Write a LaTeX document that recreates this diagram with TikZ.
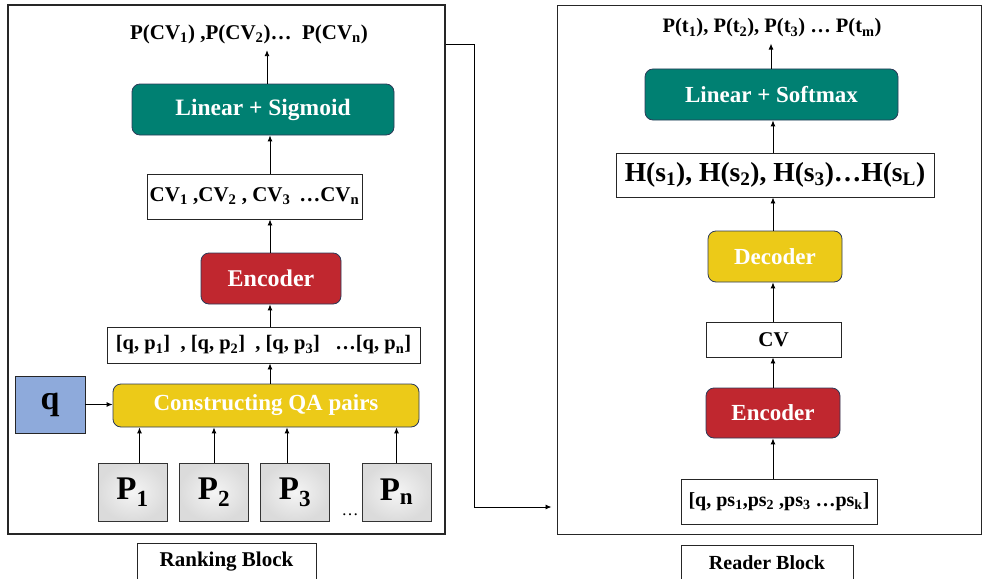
\documentclass[tikz,border=0pt]{standalone}
\usepackage{fontspec}
\setmainfont{Liberation Serif}
\usetikzlibrary{arrows.meta}
\definecolor{tealbox}{RGB}{0,128,114}
\definecolor{redbox}{RGB}{192,39,47}
\definecolor{yellowbox}{RGB}{236,202,24}
\definecolor{bluebox}{RGB}{142,170,219}
\definecolor{edgeblue}{RGB}{44,58,88}
\newcommand\fsz[1]{\fontsize{#1}{#1}\selectfont}

\begin{document}
\begin{tikzpicture}[x=1pt,y=-1pt,
  font=\bfseries,
  frame/.style={draw=black!85, line width=1.1pt, inner sep=0pt},
  block/.style={draw=edgeblue, line width=0.8pt, rounded corners=8pt,
                text=white, inner sep=0pt},
  plain/.style={draw=black!85, line width=0.9pt, fill=white, inner sep=0pt},
  pbox/.style={draw=black!80, line width=0.9pt, inner sep=0pt,
               minimum width=69pt, minimum height=58pt,
               inner color=gray!8, outer color=gray!28, font=\bfseries\fsz{33}},
  lbl/.style={inner sep=1pt},
  arr/.style={-{Latex[length=6pt,width=5pt]}, line width=0.9pt}]

\useasboundingbox (0,0) rectangle (982,578);

% ---------------- Ranking block ----------------
\node[frame, minimum width=437pt, minimum height=529pt] (rank) at (226.5,269.5) {};

\node[lbl, anchor=base, font=\bfseries\fsz{21}] (pcv) at (249,39.5)
  {P(CV\textsubscript{1}) ,P(CV\textsubscript{2})…\ \ P(CV\textsubscript{n})};

\node[block, fill=tealbox, minimum width=262pt, minimum height=51pt,
      font=\bfseries\fsz{23.5}] (linsig) at (263,109.5) {Linear + Sigmoid};

\node[plain, minimum width=215pt, minimum height=45pt, font=\bfseries\fsz{21}]
  (cvs) at (254.5,196.5)
  {CV\textsubscript{1} ,CV\textsubscript{2} , CV\textsubscript{3} \,…CV\textsubscript{n}};

\node[block, fill=redbox, minimum width=140pt, minimum height=51pt,
      font=\bfseries\fsz{24}] (enc1) at (271,278.5) {Encoder};

\node[plain, minimum width=313pt, minimum height=36pt, font=\bfseries\fsz{20.5}]
  (pairs) at (263.5,345)
  {[q, p\textsubscript{1}]\ \ , [q, p\textsubscript{2}]\ \ , [q, p\textsubscript{3}]\ \ \ …[q, p\textsubscript{n}]};

\node[block, fill=yellowbox, minimum width=306pt, minimum height=43pt,
      font=\bfseries\fsz{23}] (cqa) at (266,405.5) {Constructing QA pairs};

\node[draw=black!85, line width=0.9pt, fill=bluebox, inner sep=0pt,
      minimum width=70pt, minimum height=57pt, font=\bfseries\fsz{34}]
  (q) at (50,404.5) {q};

\node[pbox] (p1) at (132.5,492) {P\textsubscript{1}};
\node[pbox] (p2) at (214,492)   {P\textsubscript{2}};
\node[pbox] (p3) at (295,492)   {P\textsubscript{3}};
\node[pbox] (pn) at (396.5,492) {P\textsubscript{n}};
\node[lbl, font=\mdseries\fsz{17}] (pdots) at (350,515) {…};

\node[plain, minimum width=179pt, minimum height=38pt, font=\bfseries\fsz{21}]
  (ranktag) at (226.5,562) {Ranking Block};

% column of the vertical arrows
\coordinate (lx) at (270,0);
\draw[arr] (linsig.north -| 267,0) -- ([yshift=-5pt]pcv.south -| 267,0);
\draw[arr] (cvs.north -| lx) -- (linsig.south -| lx);
\draw[arr] (enc1.north -| lx) -- (cvs.south -| lx);
\draw[arr] (pairs.north -| lx) -- (enc1.south -| lx);
\draw[arr] (cqa.north -| lx) -- (pairs.south -| lx);
\draw[arr] (q.east) -- (q.east -| cqa.west);
\draw[arr] ([xshift=7pt]p1.north) -- ([xshift=7pt]p1.north |- cqa.south);
\draw[arr] (p2.north) -- (p2.north |- cqa.south);
\draw[arr] ([xshift=-8pt]p3.north) -- ([xshift=-8pt]p3.north |- cqa.south);
\draw[arr] (pn.north) -- (pn.north |- cqa.south);

% ---------------- Reader block ----------------
\node[frame, line width=1pt, minimum width=424pt, minimum height=528pt] (read) at (769,270) {};

\node[lbl, anchor=base, font=\bfseries\fsz{20.5}] (pt) at (772,33)
  {P(t\textsubscript{1}), P(t\textsubscript{2}), P(t\textsubscript{3}) … P(t\textsubscript{m})};

\node[block, fill=tealbox, minimum width=253pt, minimum height=51pt,
      font=\bfseries\fsz{23}] (linsoft) at (771.5,94.5) {Linear + Softmax};

\node[plain, minimum width=318pt, minimum height=44pt, font=\bfseries\fsz{27.5}]
  (hs) at (775,175)
  {H(s\textsubscript{1}), H(s\textsubscript{2}), H(s\textsubscript{3})…H(s\textsubscript{L})};

\node[block, fill=yellowbox, minimum width=134pt, minimum height=51pt,
      font=\bfseries\fsz{23}] (dec) at (775,256.5) {Decoder};

\node[plain, minimum width=135pt, minimum height=35pt, font=\bfseries\fsz{21}]
  (cv) at (773.5,339.5) {CV};

\node[block, fill=redbox, minimum width=134pt, minimum height=50pt,
      font=\bfseries\fsz{23}] (enc2) at (773,413) {Encoder};

\node[plain, minimum width=196pt, minimum height=45pt, font=\bfseries\fsz{20}]
  (inp) at (779,501.5)
  {[q, ps\textsubscript{1},ps\textsubscript{2} ,ps\textsubscript{3} …ps\textsubscript{k}]};

\node[plain, minimum width=172pt, minimum height=36pt, font=\bfseries\fsz{20}]
  (readtag) at (767,563) {Reader Block};

\coordinate (rx) at (773,0);
\draw[arr] (linsoft.north -| 771,0) -- ([yshift=-5pt]pt.south -| 771,0);
\draw[arr] (hs.north -| rx) -- (linsoft.south -| rx);
\draw[arr] (dec.north -| rx) -- (hs.south -| rx);
\draw[arr] (cv.north -| rx) -- (dec.south -| rx);
\draw[arr] (enc2.north -| rx) -- (cv.south -| rx);
\draw[arr] (inp.north -| rx) -- (enc2.south -| rx);

% ---------------- hand-over from ranking to reader ----------------
\coordinate (rout) at (rank.east |- 0,44);
\coordinate (rin) at ([xshift=-5pt]read.west |- 0,507);
\draw[arr] (rout) -| (474,507) -- (rin);

\end{tikzpicture}
\end{document}
